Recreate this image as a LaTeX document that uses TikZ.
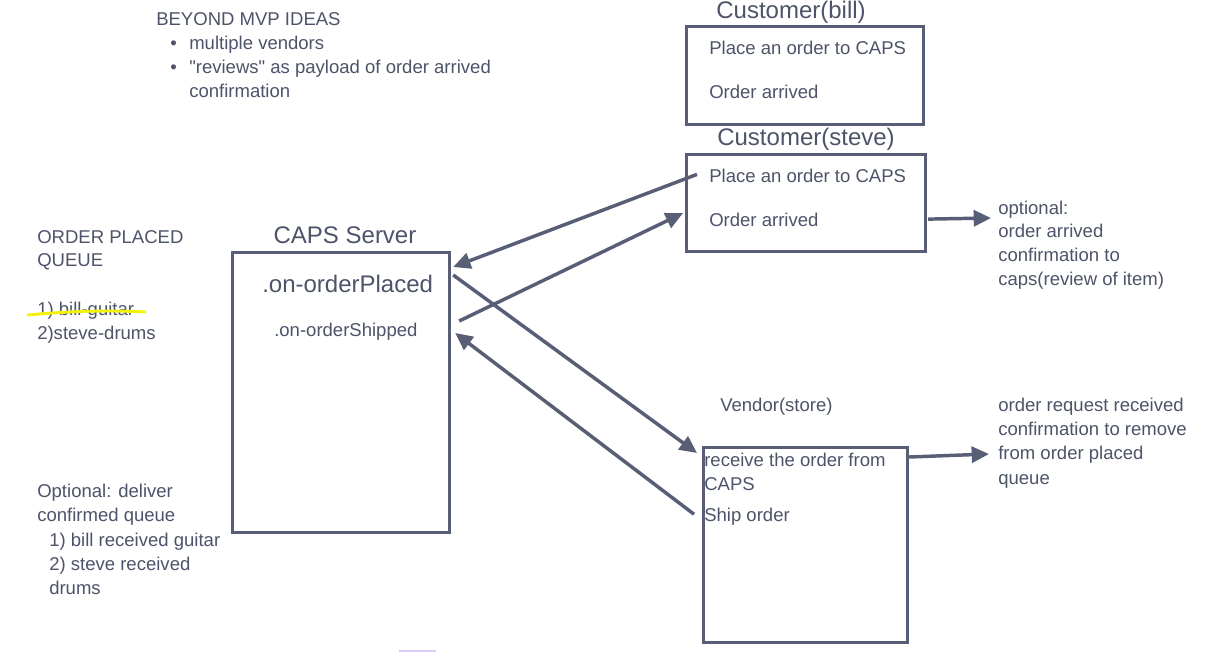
\documentclass[tikz,border=0pt]{standalone}
\usepackage{fontspec}
\setmainfont{Liberation Sans}[Ligatures=TeXOff]
\usetikzlibrary{arrows.meta,calc}
\definecolor{ln}{HTML}{575E75}
\definecolor{tx}{HTML}{4D5469}
\definecolor{hl}{HTML}{F2F20A}
\definecolor{pu}{HTML}{DCCBFA}
\tikzset{
  box/.style={draw=ln, line width=2.4pt, fill=white, anchor=north west, inner sep=0pt},
  txt/.style={anchor=base west, inner sep=0pt, text=tx, font=\fontsize{13.9}{18}\selectfont},
  ttl/.style={anchor=base, inner sep=0pt, text=tx, font=\fontsize{18}{22}\selectfont},
  big/.style={anchor=base west, inner sep=0pt, text=tx, font=\fontsize{18}{22}\selectfont},
  conn/.style={draw=ln, line width=2.6pt, -{Triangle[length=13pt,width=12pt]}},
  hlline/.style={draw=hl, line width=2.2pt, line cap=round}
}
\begin{document}
\begin{tikzpicture}[x=0.75pt,y=-0.75pt]
\useasboundingbox[fill=white] (0,0) rectangle (1212,653);

% boxes
\node[box, minimum width=237*0.75pt, minimum height=98*0.75pt] (bill) at (685,25) {};
\node[box, minimum width=239*0.75pt, minimum height=97*0.75pt] (steve) at (685,153) {};
\node[box, minimum width=217*0.75pt, minimum height=280*0.75pt] (caps) at (231,251) {};
\node[box, minimum width=204*0.75pt, minimum height=195*0.75pt] (vendor) at (702,446) {};

% beyond MVP
\node[txt] (b0) at (156,25) {BEYOND MVP IDEAS};
\node[txt] (b1d) at (170,49) {•};
\node[txt] (b1) at (189,49) {multiple vendors};
\node[txt] (b2d) at (170,73) {•};
\node[txt] (b2) at (189,73) {"reviews" as payload of order arrived};
\node[txt] (b3) at (189,97) {confirmation};

% customer bill
\node[ttl] (billt) at (791,18) {Customer(bill)};
\node[txt] (bill1) at (709,54) {Place an order to CAPS};
\node[txt] (bill2) at (709,98) {Order arrived};

% customer steve
\node[ttl] (stevet) at (806,145) {Customer(steve)};
\node[txt] (steve1) at (709,182) {Place an order to CAPS};
\node[txt] (steve2) at (709,226) {Order arrived};

% caps server
\node[ttl] (capst) at (345,243) {CAPS Server};
\node[big] (caps1) at (262,292) {.on-orderPlaced};
\node[txt] (caps2) at (274,336) {.on-orderShipped};

% vendor
\node[txt] (vendt) at (720,411) {Vendor(store)};
\node[txt] (vend1) at (704,466) {receive the order from};
\node[txt] (vend2) at (704,490) {CAPS};
\node[txt] (vend3) at (704,521) {Ship order};

% optional right
\node[txt] (o1) at (998,214) {optional:};
\node[txt] (o2) at (998,237) {order arrived};
\node[txt] (o3) at (998,261) {confirmation to};
\node[txt] (o4) at (998,285) {caps(review of item)};

\node[txt] (r1) at (998,411) {order request received};
\node[txt] (r2) at (998,435) {confirmation to remove};
\node[txt] (r3) at (998,459) {from order placed};
\node[txt] (r4) at (998,484) {queue};

% queue
\node[txt] (q1) at (37,243) {ORDER PLACED};
\node[txt] (q2) at (37,266) {QUEUE};
\node[txt] (q3) at (37,315) {1) bill-guitar};
\node[txt] (q4) at (37,339) {2)steve-drums};

% deliver
\node[txt] (d1) at (37,497) {Optional: deliver};
\node[txt] (d2) at (37,521) {confirmed queue};
\node[txt] (d3) at (49,546) {1) bill received guitar};
\node[txt] (d4) at (49,570) {2) steve received};
\node[txt] (d5) at (49,594) {drums};

% highlight
\coordinate (hA) at (28,315);
\coordinate (hB) at (145,312);
\draw[hlline] (hA) .. controls (70,311) and (110,310) .. (hB);

% connector end points
\coordinate (a1s) at ($(steve1.west)+(-12,-1)$);
\coordinate (a1e) at ($(caps.north east)+(2,16)$);
\coordinate (a2s) at ($(caps.north east)+(8,70)$);
\coordinate (a2e) at ($(steve.west)+(-2,10)$);
\coordinate (a3s) at ($(caps.north east)+(2,24)$);
\coordinate (a3e) at ($(vendor.north west)+(-5,7)$);
\coordinate (a4s) at ($(vend3.west)+(-10,-2)$);
\coordinate (a4e) at ($(caps.north east)+(4,82)$);
\coordinate (a5s) at ($(steve.east)+(1,16)$);
\coordinate (a5e) at (991,218);
\coordinate (a6s) at ($(vendor.north east)+(0,11)$);
\coordinate (a6e) at (989,454);

\draw[conn] (a1s) -- (a1e);
\draw[conn] (a2s) -- (a2e);
\draw[conn] (a3s) -- (a3e);
\draw[conn] (a4s) -- (a4e);
\draw[conn] (a5s) -- (a5e);
\draw[conn] (a6s) -- (a6e);

% faint mark
\coordinate (m1) at (399,651);
\coordinate (m2) at (436,651);
\draw[pu, line width=1.5pt] (m1) -- (m2);
\end{tikzpicture}
\end{document}
